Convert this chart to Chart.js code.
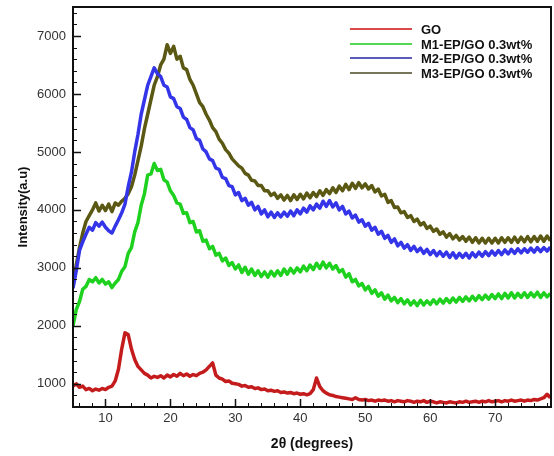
<!DOCTYPE html>
<html>
<head>
<meta charset="utf-8">
<script src="https://cdn.jsdelivr.net/npm/chart.js@4/dist/chart.umd.min.js"></script>
<style>
  html, body { margin: 0; padding: 0; background: #fff; }
  #wrap { width: 554px; height: 456px; }
</style>
</head>
<body>
<div id="wrap"><canvas id="xrdChart" width="554" height="456"></canvas></div>
<script>
// ----------------- Datos -----------------

const twoTheta = [
  5, 5.5, 6, 6.5, 7, 7.5, 8, 8.5, 9, 9.5,
  10, 10.5, 11, 11.5, 12, 12.5, 13, 13.5, 14, 14.5,
  15, 15.5, 16, 16.5, 17, 17.5, 18, 18.5, 19, 19.5,
  20, 20.5, 21, 21.5, 22, 22.5, 23, 23.5, 24, 24.5,
  25, 25.5, 26, 26.5, 27, 27.5, 28, 28.5, 29, 29.5,
  30, 30.5, 31, 31.5, 32, 32.5, 33, 33.5, 34, 34.5,
  35, 35.5, 36, 36.5, 37, 37.5, 38, 38.5, 39, 39.5,
  40, 40.5, 41, 41.5, 42, 42.5, 43, 43.5, 44, 44.5,
  45, 45.5, 46, 46.5, 47, 47.5, 48, 48.5, 49, 49.5,
  50, 50.5, 51, 51.5, 52, 52.5, 53, 53.5, 54, 54.5,
  55, 55.5, 56, 56.5, 57, 57.5, 58, 58.5, 59, 59.5,
  60, 60.5, 61, 61.5, 62, 62.5, 63, 63.5, 64, 64.5,
  65, 65.5, 66, 66.5, 67, 67.5, 68, 68.5, 69, 69.5,
  70, 70.5, 71, 71.5, 72, 72.5, 73, 73.5, 74, 74.5,
  75, 75.5, 76, 76.5, 77, 77.5, 78, 78.5
];

const goValues = [
  960, 1000, 940, 960, 900, 920, 880, 910, 890, 920,
  900, 940, 960, 1050, 1250, 1600, 1880, 1850, 1600, 1420,
  1300, 1240, 1180, 1150, 1100, 1130, 1110, 1140, 1100, 1150,
  1120, 1160, 1130, 1180, 1140, 1170, 1130, 1160, 1140, 1180,
  1200, 1240, 1300, 1360, 1150, 1100, 1080, 1040, 1050, 1010,
  1000, 990, 960, 970, 940, 950, 920, 930, 900, 910,
  880, 890, 870, 880, 850, 860, 840, 850, 830, 840,
  820, 830, 810, 830, 900, 1100, 950, 880, 840, 810,
  800, 780, 770, 760, 750, 740, 730, 760, 730, 720,
  730, 710, 720, 700, 720, 710, 720, 700, 710, 690,
  710, 700, 690, 710, 700, 680, 700, 690, 710, 680,
  700, 690, 670, 690, 680, 670, 690, 680, 670, 690,
  680, 700, 680, 690, 700, 680, 700, 690, 710, 690,
  700, 710, 690, 710, 700, 720, 700, 710, 720, 700,
  720, 710, 730, 720, 740, 760, 820, 760
];

const m1Values = [
  2000, 2280, 2420, 2630, 2680, 2800, 2760, 2830, 2740, 2800,
  2720, 2760, 2660, 2740, 2800, 2940, 3020, 3250, 3350, 3620,
  3780, 4080, 4280, 4600, 4620, 4800, 4680, 4700, 4520, 4480,
  4330, 4250, 4120, 4100, 3940, 3950, 3780, 3800, 3620, 3640,
  3460, 3480, 3330, 3370, 3220, 3250, 3120, 3170, 3040, 3090,
  2980, 3050, 2920, 3010, 2890, 2980, 2870, 2950, 2850, 2930,
  2840, 2940, 2860, 2950, 2870, 2980, 2890, 2990, 2910, 3000,
  2930, 3030, 2950, 3050, 2970, 3080, 2990, 3100, 3000, 3080,
  2980, 3040, 2930, 2970, 2840, 2900, 2760, 2800, 2690, 2730,
  2620, 2680, 2560, 2620, 2510, 2570, 2460, 2530, 2430, 2490,
  2400, 2470, 2380, 2450, 2360, 2430, 2350, 2440, 2360, 2430,
  2370, 2450, 2380, 2460, 2390, 2470, 2400, 2480, 2410, 2490,
  2420, 2500, 2430, 2510, 2440, 2520, 2450, 2530, 2460, 2540,
  2470, 2550, 2470, 2560, 2480, 2570, 2480, 2560, 2490, 2570,
  2490, 2570, 2500, 2580, 2490, 2570, 2500, 2560
];

const m2Values = [
  2650, 2950, 3300, 3450, 3580, 3700, 3650, 3780, 3720, 3790,
  3700, 3640, 3600, 3720, 3830, 3950, 4100, 4400, 4650, 5000,
  5300, 5650, 5900, 6150, 6300, 6450, 6350, 6300, 6150, 6120,
  5950, 5920, 5780, 5750, 5600, 5560, 5420, 5380, 5230, 5200,
  5050, 5000, 4880, 4850, 4720, 4700, 4560, 4540, 4420, 4400,
  4260, 4300, 4160, 4200, 4080, 4130, 4000, 4060, 3930, 4000,
  3880, 3960, 3870, 3950, 3880, 3960, 3890, 3980, 3900, 4000,
  3930, 4030, 3960, 4070, 4000, 4100, 4030, 4150, 4060, 4160,
  4050, 4120, 4000, 4060, 3930, 3980, 3860, 3910, 3790, 3830,
  3720, 3770, 3650, 3700, 3580, 3630, 3510, 3560, 3440, 3500,
  3380, 3440, 3340, 3400, 3300, 3370, 3280, 3340, 3250, 3320,
  3230, 3300, 3210, 3280, 3200, 3270, 3180, 3260, 3170, 3250,
  3180, 3250, 3170, 3260, 3190, 3270, 3200, 3280, 3210, 3290,
  3220, 3300, 3230, 3310, 3240, 3320, 3250, 3330, 3260, 3330,
  3270, 3340, 3270, 3350, 3280, 3350, 3290, 3360
];

const m3Values = [
  2700, 3050, 3350, 3600, 3800, 3900, 4000, 4120, 3980, 4080,
  3990, 4100, 3970, 4120, 4080, 4150, 4200, 4280, 4400, 4600,
  4850, 5100, 5400, 5650, 5900, 6150, 6300, 6500, 6600, 6850,
  6700, 6820, 6600, 6650, 6450, 6420, 6250, 6150, 6000, 5850,
  5780, 5650, 5550, 5420, 5350, 5220, 5150, 5040, 4980, 4880,
  4820, 4760, 4720, 4630, 4600, 4510, 4500, 4420, 4420, 4330,
  4330, 4250, 4290, 4200, 4260, 4170, 4250, 4160, 4260, 4180,
  4270, 4190, 4290, 4210, 4300, 4230, 4330, 4250, 4350, 4280,
  4380, 4300, 4410, 4330, 4440, 4350, 4460, 4370, 4470, 4380,
  4450, 4360, 4420, 4310, 4360, 4240, 4270, 4130, 4160, 4040,
  4050, 3950, 3970, 3870, 3900, 3800, 3840, 3740, 3780, 3680,
  3720, 3630, 3670, 3580, 3620, 3530, 3590, 3500, 3560, 3480,
  3540, 3460, 3530, 3440, 3520, 3430, 3510, 3430, 3510, 3430,
  3510, 3430, 3520, 3440, 3520, 3440, 3530, 3440, 3530, 3450,
  3540, 3450, 3540, 3460, 3550, 3460, 3550, 3470
];

const seriesLabels = ['GO', 'M1-EP/GO 0.3wt%', 'M2-EP/GO 0.3wt%', 'M3-EP/GO 0.3wt%'];
const seriesColors = ['#c41c1c', '#1fd11f', '#3434e8', '#5a5812'];
const legendColors = ['#d84a4a', '#52d852', '#5b5bb8', '#77765a'];

const xTicks = [10, 20, 30, 40, 50, 60, 70];
const yTicks = [1000, 2000, 3000, 4000, 5000, 6000, 7000];

// ----------------- Helpers -----------------

function toPoints(values) {
  return values.map((y, i) => ({ x: twoTheta[i], y }));
}

const minorX = [];
for (let v = 6; v <= 78; v += 2) if (v % 10 !== 0) minorX.push(v);
const minorY = [];
for (let v = 800; v <= 7400; v += 200) if (v % 1000 !== 0) minorY.push(v);

// marco + ticks hacia adentro + leyenda
const framePlugin = {
  id: 'frame',
  afterDraw(chart) {
    const { ctx, chartArea: a, scales } = chart;
    const xs = scales.x, ys = scales.y;
    ctx.save();
    ctx.strokeStyle = '#111';
    ctx.lineWidth = 1.5;
    ctx.beginPath();
    xTicks.forEach(v => {
      const px = Math.round(xs.getPixelForValue(v)) + 0.5;
      ctx.moveTo(px, a.bottom); ctx.lineTo(px, a.bottom - 8);
    });
    yTicks.forEach(v => {
      const py = Math.round(ys.getPixelForValue(v)) + 0.5;
      ctx.moveTo(a.left, py); ctx.lineTo(a.left + 8, py);
    });
    ctx.stroke();
    ctx.lineWidth = 1;
    ctx.beginPath();
    minorX.forEach(v => {
      const px = Math.round(xs.getPixelForValue(v)) + 0.5;
      ctx.moveTo(px, a.bottom); ctx.lineTo(px, a.bottom - 4);
    });
    minorY.forEach(v => {
      const py = Math.round(ys.getPixelForValue(v)) + 0.5;
      ctx.moveTo(a.left, py); ctx.lineTo(a.left + 4, py);
    });
    ctx.stroke();

    ctx.lineWidth = 2;
    ctx.strokeRect(a.left, a.top, a.right - a.left, a.bottom - a.top);

    // leyenda
    ctx.font = 'bold 13px "Liberation Sans", Arial, sans-serif';
    ctx.textBaseline = 'middle';
    ctx.fillStyle = '#111';
    const rows = [29, 44, 58, 73];
    seriesLabels.forEach((label, i) => {
      ctx.strokeStyle = legendColors[i];
      ctx.lineWidth = 2;
      ctx.beginPath();
      ctx.moveTo(350, rows[i]);
      ctx.lineTo(412, rows[i]);
      ctx.stroke();
      ctx.fillText(label, 421, rows[i] + 1);
    });
    ctx.restore();
  }
};

// ----------------- Gráfico -----------------

const tickFont = { family: '"Liberation Sans", Arial, sans-serif', size: 13 };

new Chart(document.getElementById('xrdChart').getContext('2d'), {
  type: 'line',
  data: {
    datasets: [
      { label: seriesLabels[0], data: toPoints(goValues) },
      { label: seriesLabels[1], data: toPoints(m1Values) },
      { label: seriesLabels[2], data: toPoints(m2Values) },
      { label: seriesLabels[3], data: toPoints(m3Values) }
    ].map((ds, i) => ({
      ...ds,
      borderColor: seriesColors[i],
      backgroundColor: seriesColors[i],
      borderWidth: 3.5,
      borderJoinStyle: 'round',
      pointRadius: 0,
      tension: 0,
      fill: false
    }))
  },
  options: {
    responsive: false,
    animation: false,
    devicePixelRatio: 1,
    layout: { padding: { top: 7, right: 3, left: 0, bottom: 0 } },
    plugins: {
      legend: { display: false },
      tooltip: { enabled: false }
    },
    scales: {
      x: {
        type: 'linear',
        min: 5,
        max: 78.6,
        afterBuildTicks: (s) => { s.ticks = xTicks.map(v => ({ value: v })); },
        afterFit: (s) => { s.height = 49; s.paddingLeft = 0; s.paddingRight = 0; },
        grid: { display: false, drawTicks: false },
        border: { display: false },
        ticks: { color: '#333', font: tickFont, padding: 4, maxRotation: 0, callback: (v) => String(v) },
        title: {
          display: true,
          text: '2θ (degrees)',
          color: '#111',
          font: { family: '"Liberation Sans", Arial, sans-serif', size: 14, weight: 'bold' },
          padding: { top: 0, bottom: 3 }
        }
      },
      y: {
        type: 'linear',
        min: 600,
        max: 7500,
        afterBuildTicks: (s) => { s.ticks = yTicks.map(v => ({ value: v })); },
        afterFit: (s) => { s.width = 73; s.paddingTop = 0; s.paddingBottom = 0; },
        grid: { display: false, drawTicks: false },
        border: { display: false },
        ticks: { color: '#333', font: tickFont, padding: 7, callback: (v) => String(v) },
        title: {
          display: true,
          text: 'Intensity(a.u)',
          color: '#111',
          font: { family: '"Liberation Sans", Arial, sans-serif', size: 13, weight: 'bold' },
          padding: { top: 16, bottom: 0 }
        }
      }
    }
  },
  plugins: [framePlugin]
});
</script>
</body>
</html>
